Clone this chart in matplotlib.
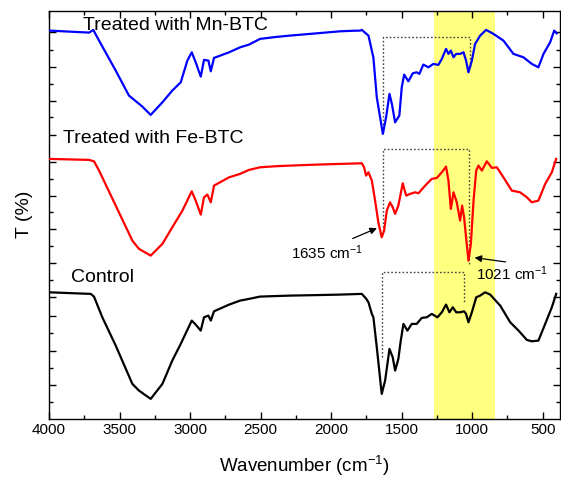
import matplotlib
matplotlib.use('Agg')
import matplotlib.pyplot as plt
import numpy as np

plt.rcParams['font.family'] = ['Liberation Sans', 'DejaVu Sans']
plt.rcParams['mathtext.default'] = 'regular'

# Spectra (wavenumber, offset transmittance in arbitrary units)
wn_mn = [4000, 3716, 3686, 3645, 3527, 3433, 3338, 3279, 3196, 3126, 3066, 3019, 2988, 2960, 2924,
         2901, 2870, 2853, 2830, 2723, 2645, 2582, 2504, 2400, 2291, 2100, 1936, 1850, 1794, 1782,
         1735, 1700, 1676,
         1633, 1610, 1586, 1569, 1546, 1516, 1499, 1482, 1452, 1421, 1393, 1374, 1346, 1310, 1275,
         1239, 1215, 1185, 1168, 1151, 1132, 1113, 1085, 1061, 1043, 1026, 1002, 979, 943, 901,
         849, 778, 707, 636, 577, 530, 494, 447, 418, 400]
t_mn = [388, 386, 388.7, 378, 348, 323, 312, 303.7, 316.3, 328, 336.3, 358, 366.3, 356.3, 342,
        358.7, 358, 347.3, 360.7, 366.3, 371.3, 374, 379.7, 381.5, 383, 385.3, 387.3, 387.8, 388, 388.7,
        383, 361, 321.3,
        284.7, 301.3, 324.7, 314.7, 296.3, 303, 331.3, 344, 337.3, 345.3, 346.3, 344.7, 354, 351.3, 354.7,
        353.7, 359.7, 369.7, 364.7, 368, 361.3, 364.7, 364.7, 366.3, 358, 346.3, 358, 374.7, 383, 388.7,
        384.7, 378, 364.7, 361.3, 354.7, 351.3, 364.7, 376.3, 388, 385.3]

wn_fe = [4000, 3716, 3681, 3645, 3527, 3409, 3362, 3279, 3196, 3126, 3054, 2988, 2960, 2924, 2901,
         2877, 2853, 2830, 2723, 2645, 2582, 2504, 2400, 2291, 2100, 1936, 1782, 1766, 1752, 1735,
         1711, 1688,
         1665, 1641, 1624, 1605, 1582, 1563, 1546, 1523, 1492, 1468, 1440, 1404, 1381, 1333, 1286,
         1250, 1215, 1185, 1168, 1151, 1132, 1109, 1085, 1071, 1057, 1043, 1026, 1009, 990, 971,
         955, 931, 896, 860, 825, 778, 719, 660, 612, 577, 530, 482, 435, 404]
t_fe = [259.7, 258.7, 257.3, 248, 213, 178, 169.7, 163, 174.7, 191.3, 208, 227.3, 218, 204, 221.3,
        224, 216.3, 233, 241.3, 244.7, 248.7, 251.3, 252.3, 253, 254, 254.7, 255.3, 251.3, 243, 246.3,
        238, 218,
        196.3, 181.3, 188, 208, 216.3, 211.3, 204.7, 213, 235.3, 223, 224.7, 226.3, 225.3, 233, 239.7,
        240.7, 246.3, 252, 238, 209.7, 226.3, 216.3, 198, 213, 201.3, 181.3, 158, 174.7, 218, 248,
        253, 248, 257.3, 250.7, 251.3, 241.3, 228, 226.3, 221.3, 216.3, 218, 234.7, 246.3, 259.7]

wn_ctrl = [4000, 3704, 3681, 3622, 3527, 3409, 3362, 3279, 3196, 3126, 3066, 2988, 2960, 2924, 2901,
           2870, 2853, 2830, 2723, 2645, 2582, 2504, 2400, 2291, 2100, 1936, 1782, 1752, 1735, 1711,
           1700, 1676,
           1641, 1617, 1586, 1563, 1546, 1523, 1506, 1487, 1459, 1428, 1393, 1357, 1322, 1286, 1246,
           1215, 1185, 1161, 1137, 1113, 1085, 1057, 1043, 1026, 1002, 971, 943, 908, 872, 801,
           730, 671, 612, 577, 530, 482, 435, 404]
t_ctrl = [126.3, 124.7, 122, 101.3, 73, 34.7, 28, 19.7, 34.7, 58, 74.7, 98, 94, 88, 101.3,
          103, 98, 107.3, 114, 118, 119.7, 122, 122.5, 123, 123.5, 124, 124.7, 120, 116.3, 104.7,
          101.3, 71.3,
          24.7, 38, 69.7, 61.3, 48, 59.7, 78, 94.7, 88, 94.7, 94.7, 100.7, 101.3, 104.7, 101.3,
          106.3, 114, 106.3, 111.3, 106.3, 106.3, 107.3, 104.7, 96.3, 106.3, 121.3, 123, 126.3, 124, 113,
          96.3, 88, 78.7, 77.3, 78, 94.7, 111.3, 124.7]

# dotted guide boxes: [x_left, x_right], [y_left_bottom, y_top, y_right_bottom]
box_x = {'mn': [1635, 1015], 'fe': [1635, 1019], 'ctrl': [1638, 1057]}
box_y = {'mn': [287, 381.3, 351.3], 'fe': [188, 270, 155], 'ctrl': [61.3, 146.3, 116.3]}

band = (1270, 840)

fig = plt.figure(figsize=(5.61, 4.79), dpi=100)
ax = fig.add_axes([49 / 561, 60.4 / 479, 511 / 561, 408 / 479])

ax.axvspan(band[0], band[1], color='#ffff80', zorder=0, lw=0)

ax.plot(wn_mn, t_mn, color='#0000ff', lw=1.6, zorder=3)
ax.plot(wn_fe, t_fe, color='#ff0000', lw=1.6, zorder=3)
ax.plot(wn_ctrl, t_ctrl, color='black', lw=1.6, zorder=3)

for k in ['mn', 'fe', 'ctrl']:
    xl, xr = box_x[k]
    yb, yt, yr = box_y[k]
    ax.plot([xl, xl, xr, xr], [yb, yt, yt, yr], color='#444444', ls=(0, (1.2, 1.5)),
            lw=1.0, zorder=2)

ax.text(3759, 393, 'Treated with Mn-BTC', fontsize=14, va='center', ha='left')
ax.text(3901, 280, 'Treated with Fe-BTC', fontsize=14, va='center', ha='left')
ax.text(3846, 140.7, 'Control', fontsize=14, va='center', ha='left')

ax.annotate('', xy=(1657, 191.5), xytext=(1865, 179),
            arrowprops=dict(arrowstyle='-|>', color='black', lw=0.9, mutation_scale=10))
ax.text(2028, 166.3, '1635 cm$^{-1}$', fontsize=11, ha='center', va='center')
ax.annotate('', xy=(1002, 161.3), xytext=(743, 156.3),
            arrowprops=dict(arrowstyle='-|>', color='black', lw=0.9, mutation_scale=10))
ax.text(713, 144.7, '1021 cm$^{-1}$', fontsize=11, ha='center', va='center')

ax.set_xlim(4000, 377)
ax.set_ylim(0, 408)
ax.set_xticks(np.arange(4000, 499, -500))
ax.set_xticks(np.arange(3750, 499, -500), minor=True)
y_major = [33.7, 68, 103, 121.3, 155.3, 189.3, 223, 257, 283.7, 318, 352, 386.3]
y_minor = [16.3, 51, 85.3, 139, 173, 206.3, 239.7, 301.3, 334.7, 368.7]
ax.set_yticks(y_major)
ax.set_yticks(y_minor, minor=True)
ax.set_yticklabels([])
ax.tick_params(which='both', direction='in', top=True, right=True, labelsize=11, width=1)
ax.tick_params(which='major', length=5)
ax.tick_params(which='minor', length=3)
for s in ax.spines.values():
    s.set_linewidth(1.0)

ax.set_xlabel('Wavenumber (cm$^{-1}$)', fontsize=13.5, labelpad=12)
ax.set_ylabel('T (%)', fontsize=14, labelpad=8)

fig.savefig('out.png', dpi=100)
